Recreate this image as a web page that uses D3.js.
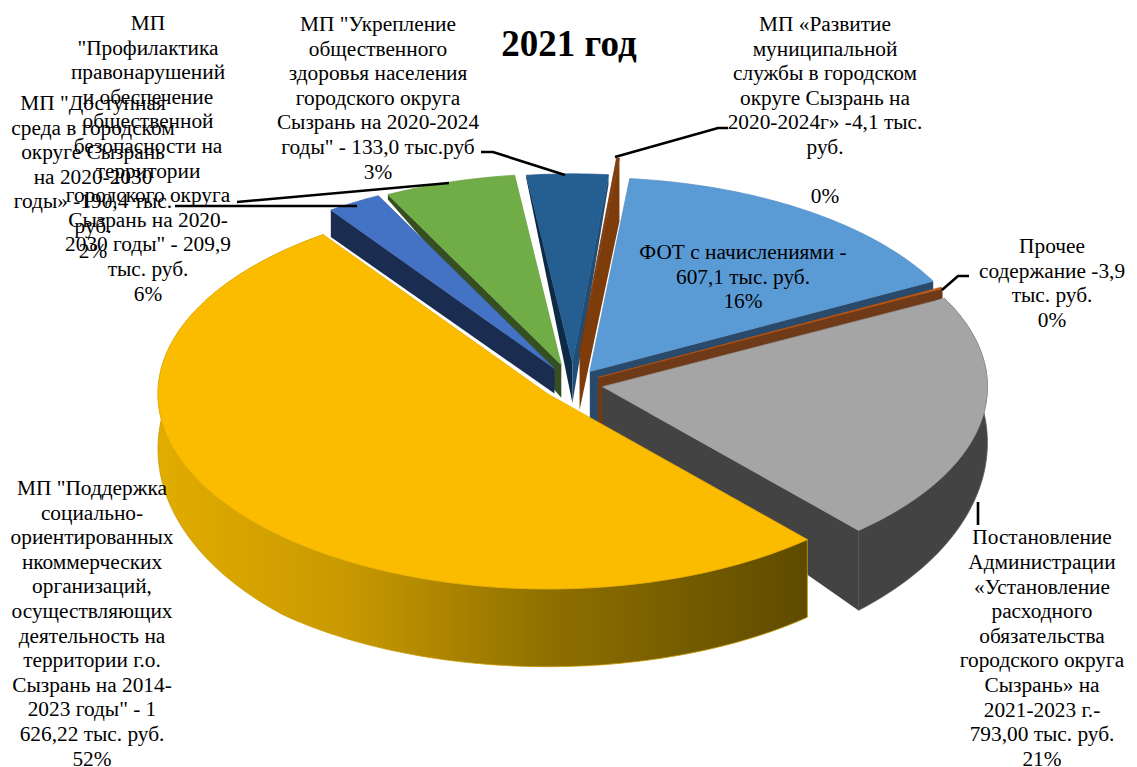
<!DOCTYPE html>
<html><head><meta charset="utf-8">
<script src="https://cdn.jsdelivr.net/npm/d3@7/dist/d3.min.js"></script>
<style>html,body{margin:0;padding:0;background:#fff;overflow:hidden}</style>
</head><body><div id="chart"></div>
<script>
// --- data (clockwise from the top) ---
const categories = ["ФОТ","Прочее","Постановление","Поддержка","Доступная среда","Профилактика","Укрепление","Развитие"];
const shares = [15.8, 0.12, 21.2, 52.3, 2.3, 5.6, 3.5, 0.12];
const title = "2021 год";
const labelLines = [
  ["ФОТ с начислениями -","607,1 тыс. руб.","16%"],
  ["Прочее","содержание -3,9","тыс. руб.","0%"],
  ["Постановление","Администрации","«Установление","расходного","обязательства","городского округа","Сызрань» на","2021-2023 г.-","793,00 тыс. руб.","21%"],
  ["МП \"Поддержка","социально-","ориентированных","нкоммерческих","организаций,","осуществляющих","деятельность на","территории г.о.","Сызрань на 2014-","2023 годы\" - 1","626,22 тыс. руб.","52%"],
  ["МП \"Доступная","среда в городском","округе Сызрань","на 2020-2030","годы» -190,4 тыс.","руб.","2%"],
  ["МП","\"Профилактика","правонарушений","и обеспечение","общественной","безопасности на","территории","городского округа","Сызрань на 2020-","2030 годы\" - 209,9","тыс. руб.","6%"],
  ["МП \"Укрепление","общественного","здоровья населения","городского округа","Сызрань на 2020-2024","годы\" - 133,0 тыс.руб","3%"],
  ["МП «Развитие","муниципальной","службы в городском","округе Сызрань на","2020-2024г» -4,1 тыс.","руб.","","0%"]
];

// --- layout & styling (not data) ---
const W = 1137, H = 767, cx = 573, cy = 384, tilt = 0.5;
const radius = d3.scaleLinear().domain([0,1]).range([0,388]);
const deg = d3.scaleLinear().domain([0,180]).range([0,Math.PI]);
const explode = [30,28,30,32,36,40,42,66];
const reach = [1,1,0.992,1.005,1,0.985,0.975,1];
const topFill  = ["#5b9bd5","#c55a11","#a5a5a5","#fbbc00","#4472c4","#70ad47","#255e91","#843c0c"];
const wallFill = ["#2a4a6b","#6e3a17","#434343","url(#yw)","#1a2c50","#364f22","#0f2a45","#7e3c0a"];
// which radial cut faces show: [slice, edge (0 start,1 end), drop at rim, drop at centre, colour]
const cuts = [
  [0,1,8,55,"#2a4a6b"],[1,1,10,55,"#6e3a17"],[2,1,80,45,"#434343"],
  [4,0,27,25,"#1a2c50"],[5,0,5,33,"#364f22"],
  [6,0,3,40,"#0f2a45"],[6,1,10,40,"#1f4e79"],[7,1,63,59,"#7e3c0a"]
];
const drawOrder = [6,5,4,7,0,1,2,3];
const dropAt = d3.scaleLinear().domain([212,537]).range([27,81]).clamp(true);
const wallScale = {2:1, 3:0.96};
const labelPos = [[743,253],[1052,247],[1042,538.5],[92,489],[93,104],[148,24],[378,25],[825,25]];
const leaders = [
  [[237,202],[449,183]],
  [[175,206],[357,206]],
  [[481,152],[493,152],[565,175]],
  [[728,128],[718,128],[615,157]],
  [[969,276],[958,276],[942,290]],
  [[978,502],[978,525]]
];
const lineH = 24.6;

const svg = d3.select("#chart").append("svg").attr("width",W).attr("height",H)
  .style("display","block").style("font-family","'Liberation Serif','Times New Roman',serif");
const grad = svg.append("defs").append("linearGradient").attr("id","yw")
  .attr("gradientUnits","userSpaceOnUse").attr("x1",158).attr("x2",805).attr("y1",0).attr("y2",0);
[[0,"#e2ac00"],[0.3,"#c79800"],[0.6,"#8f7000"],[1,"#5f4b00"]].forEach(s=>grad.append("stop").attr("offset",s[0]).attr("stop-color",s[1]));

const slices = d3.pie().value(d=>d).sort(null)
  .startAngle(deg(5.9)).endAngle(deg(5.9)+2*Math.PI)(shares);
const apex = i => {
  const s = slices[i], m=(s.startAngle+s.endAngle)/2, e=explode[i];
  return [cx+e*Math.sin(m), cy-tilt*e*Math.cos(m)];
};
const pt = (i,a) => {
  const c=apex(i), r=radius(reach[i]);
  return [c[0]+r*Math.sin(a), c[1]-tilt*r*Math.cos(a)];
};
const line = d3.line();
const rim = i => {
  const s=slices[i], n=Math.max(2,Math.ceil((s.endAngle-s.startAngle)/deg(1)));
  return d3.range(n+1).map(j=>pt(i,s.startAngle+(s.endAngle-s.startAngle)*j/n));
};

const g = svg.append("g");
drawOrder.forEach(i=>{
  // outer wall only for the front slices
  if(i===2||i===3){
    const r=rim(i), low=r.map(p=>[p[0],p[1]+dropAt(p[1])*wallScale[i]]).reverse();
    g.append("path").attr("d",line(r.concat(low))+"Z").attr("fill",wallFill[i])
      .attr("stroke",i===3?"#c79a00":"#5a5a5a").attr("stroke-width",.8);
  }
  cuts.filter(c=>c[0]===i).forEach(c=>{
    const s=slices[i], a=c[1]?s.endAngle:s.startAngle, p=pt(i,a), o=apex(i);
    g.append("path").attr("d",line([p,o,[o[0],o[1]+c[3]],[p[0],p[1]+c[2]]])+"Z")
      .attr("fill",c[4]);
  });
  g.append("path").attr("d",line([apex(i)].concat(rim(i)))+"Z").attr("fill",topFill[i])
    .attr("stroke",d3.color(topFill[i]).darker(.25)).attr("stroke-width",.7);
});

svg.append("g").selectAll("path").data(leaders).join("path")
  .attr("d",d=>line(d)).attr("fill","none").attr("stroke","#000").attr("stroke-width",2.6);

const lab = svg.append("g").attr("text-anchor","middle").attr("font-size",21.33).attr("fill","#000");
labelLines.forEach((ls,i)=>{
  ls.forEach((t,j)=>lab.append("text").attr("x",labelPos[i][0]).attr("y",labelPos[i][1]+j*lineH)
    .attr("dy","0.28em").text(t));
});
svg.append("text").attr("x",569).attr("y",43).attr("dy","0.34em").attr("text-anchor","middle")
  .attr("font-size",37).attr("font-weight","bold").text(title);
</script></body></html>
